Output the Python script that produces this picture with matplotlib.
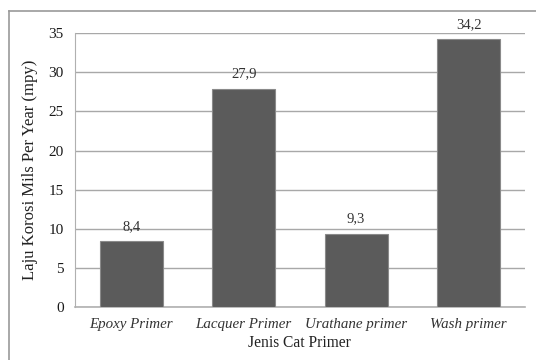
import matplotlib.pyplot as plt
from matplotlib.lines import Line2D

primers = ['Epoxy Primer', 'Lacquer Primer', 'Urathane primer', 'Wash primer']
corrosion_rate = [8.4, 27.9, 9.3, 34.2]
value_labels = ['8,4', '27,9', '9,3', '34,2']
y_ticks = [0, 5, 10, 15, 20, 25, 30, 35]

plt.rcParams['font.family'] = ['Liberation Serif', 'DejaVu Serif']

fig = plt.figure(figsize=(5.36, 3.6), dpi=100)
ax = fig.add_axes([0.140, 0.147, 0.839, 0.761])

x = range(len(primers))
ax.bar(x, corrosion_rate, width=0.56, color='#5b5b5b', edgecolor='#8a8a8a',
       linewidth=0.8, zorder=3)

for xi, v, lab in zip(x, corrosion_rate, value_labels):
    ax.text(xi, v + 1.1, lab, ha='center', va='bottom', fontsize=10.5, color='#333333')

ax.set_ylim(0, 35)
ax.set_xlim(-0.5, 3.5)
ax.set_yticks(y_ticks)
ax.set_yticklabels([str(t) for t in y_ticks], fontsize=11, color='#1a1a1a')
ax.set_xticks(list(x))
ax.set_xticklabels(primers, fontsize=10.8, style='italic', color='#333333')
ax.tick_params(axis='both', length=0)
ax.tick_params(axis='y', pad=8)
ax.tick_params(axis='x', pad=8)

ax.yaxis.grid(True, color='#a8a8a8', linewidth=1.0, zorder=0)
ax.set_axisbelow(True)
for side in ['top', 'right']:
    ax.spines[side].set_visible(False)
ax.spines['left'].set_color('#b0b0b0')
ax.spines['bottom'].set_color('#b0b0b0')
ax.spines['bottom'].set_linewidth(1.2)

ax.set_ylabel('Laju Korosi Mils Per Year (mpy)', fontsize=12, color='#222222', labelpad=8)
ax.set_xlabel('Jenis Cat Primer', fontsize=11.2, color='#222222', labelpad=3)

# outer frame around the chart (left and top edges)
fig.add_artist(Line2D([0.016, 0.016], [0.0, 0.970], transform=fig.transFigure,
                      color='#9a9a9a', linewidth=1.2))
fig.add_artist(Line2D([0.016, 1.0], [0.970, 0.970], transform=fig.transFigure,
                      color='#9a9a9a', linewidth=1.2))

fig.savefig('out.png', dpi=100)
